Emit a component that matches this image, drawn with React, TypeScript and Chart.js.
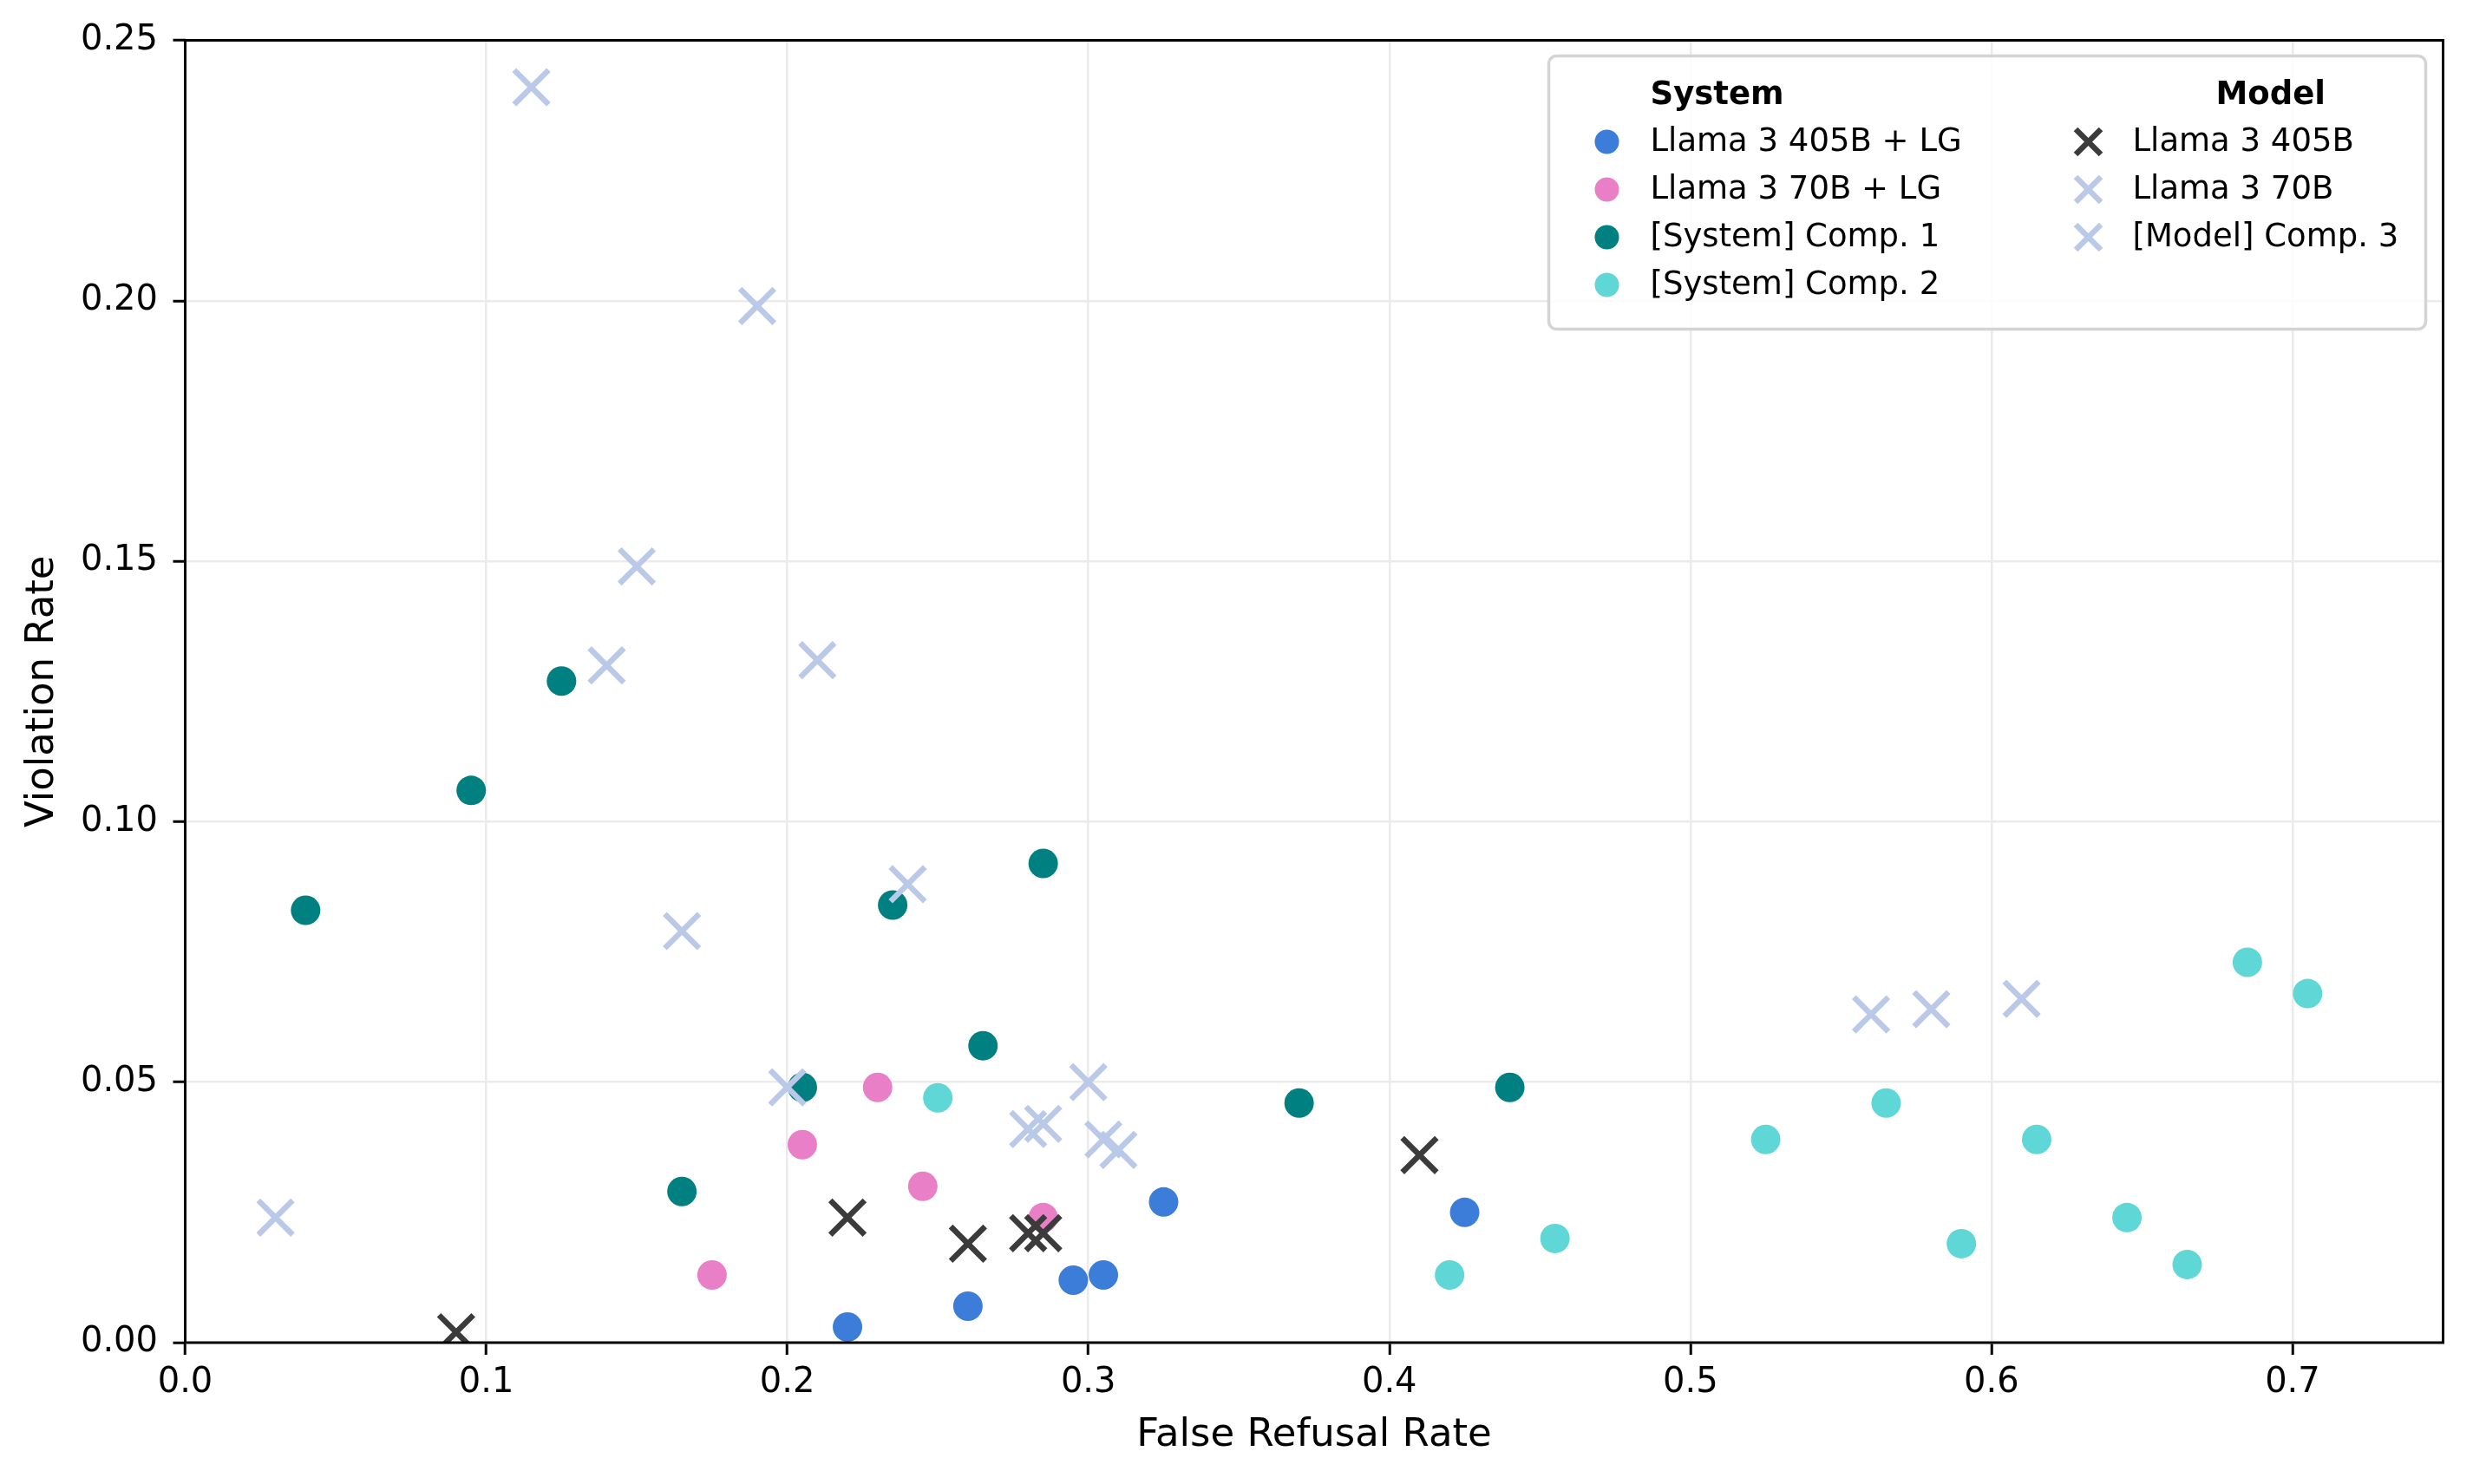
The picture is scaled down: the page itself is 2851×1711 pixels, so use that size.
import React, { useEffect, useRef } from 'react';
import { Chart, registerables } from 'chart.js';

Chart.register(...registerables);

// ---- Axis ticks ----
const xTickValues = [0, 0.1, 0.2, 0.3, 0.4, 0.5, 0.6, 0.7];
const xTickLabels = ['0.0', '0.1', '0.2', '0.3', '0.4', '0.5', '0.6', '0.7'];
const yTickValues = [0, 0.05, 0.1, 0.15, 0.2, 0.25];
const yTickLabels = ['0.00', '0.05', '0.10', '0.15', '0.20', '0.25'];

// ---- System series (circles) ----
const sys405LG_x = [0.22, 0.26, 0.295, 0.305, 0.325, 0.425];
const sys405LG_y = [0.003, 0.007, 0.012, 0.013, 0.027, 0.025];

const sys70LG_x = [0.175, 0.205, 0.23, 0.245, 0.285];
const sys70LG_y = [0.013, 0.038, 0.049, 0.030, 0.024];

const sysComp1_x = [0.04, 0.095, 0.125, 0.165, 0.205, 0.235, 0.265, 0.285, 0.37, 0.44];
const sysComp1_y = [0.083, 0.106, 0.127, 0.029, 0.049, 0.084, 0.057, 0.092, 0.046, 0.049];

const sysComp2_x = [0.25, 0.42, 0.455, 0.525, 0.565, 0.59, 0.615, 0.645, 0.665, 0.685, 0.705];
const sysComp2_y = [0.047, 0.013, 0.020, 0.039, 0.046, 0.019, 0.039, 0.024, 0.015, 0.073, 0.067];

// ---- Model series (crosses) ----
const mod405_x = [0.09, 0.22, 0.26, 0.28, 0.285, 0.41];
const mod405_y = [0.002, 0.024, 0.019, 0.021, 0.021, 0.036];

const mod70_x = [0.03, 0.14, 0.165, 0.2, 0.24, 0.28, 0.305, 0.56];
const mod70_y = [0.024, 0.130, 0.079, 0.049, 0.088, 0.041, 0.039, 0.063];

const modComp3_x = [0.115, 0.15, 0.19, 0.21, 0.285, 0.30, 0.31, 0.58, 0.61];
const modComp3_y = [0.241, 0.149, 0.199, 0.131, 0.042, 0.050, 0.037, 0.064, 0.066];

const systemNames = ['Llama 3 405B + LG', 'Llama 3 70B + LG', '[System] Comp. 1', '[System] Comp. 2'];
const modelNames = ['Llama 3 405B', 'Llama 3 70B', '[Model] Comp. 3'];
const systemColors = ['#3b7dd8', '#e97fc7', '#008080', '#5fd7d7'];
const modelColors = ['#3b3b3b', '#bac9e8', '#bac9e8'];

const FONT = 'DejaVu Sans';

function pts(xs: number[], ys: number[]) {
  return xs.map((x, i) => ({ x, y: ys[i] }));
}

const legendPlugin = {
  id: 'customLegend',
  afterDraw(chart: any) {
    const { ctx, chartArea } = chart;
    const right = chartArea.right - 20;
    const top = chartArea.top + 18;
    const w = 1011;
    const h = 315;
    const left = right - w;
    ctx.save();
    const r = 9;
    ctx.beginPath();
    ctx.moveTo(left + r, top);
    ctx.lineTo(right - r, top);
    ctx.arcTo(right, top, right, top + r, r);
    ctx.lineTo(right, top + h - r);
    ctx.arcTo(right, top + h, right - r, top + h, r);
    ctx.lineTo(left + r, top + h);
    ctx.arcTo(left, top + h, left, top + h - r, r);
    ctx.lineTo(left, top + r);
    ctx.arcTo(left, top, left + r, top, r);
    ctx.closePath();
    ctx.fillStyle = 'rgba(255,255,255,0.85)';
    ctx.fill();
    ctx.strokeStyle = '#d4d4d4';
    ctx.lineWidth = 3.5;
    ctx.stroke();

    ctx.textBaseline = 'middle';
    ctx.textAlign = 'left';
    ctx.fillStyle = '#000';
    const headerY = top + 45;
    const rows = [top + 99, top + 154, top + 209, top + 264];

    ctx.font = `bold 37px "${FONT}"`;
    ctx.fillText('System', left + 117, headerY + 1);
    ctx.fillText('Model', left + 769, headerY + 1);

    ctx.font = `37px "${FONT}"`;
    systemNames.forEach((name, i) => {
      ctx.beginPath();
      ctx.arc(left + 67, rows[i], 14, 0, Math.PI * 2);
      ctx.fillStyle = systemColors[i];
      ctx.fill();
      ctx.fillStyle = '#000';
      ctx.fillText(name, left + 117, rows[i] + 1);
    });
    modelNames.forEach((name, i) => {
      const cx = left + 622;
      const cy = rows[i];
      const s = 14.5;
      ctx.beginPath();
      ctx.moveTo(cx - s, cy - s);
      ctx.lineTo(cx + s, cy + s);
      ctx.moveTo(cx - s, cy + s);
      ctx.lineTo(cx + s, cy - s);
      ctx.strokeStyle = modelColors[i];
      ctx.lineWidth = 6.5;
      ctx.lineCap = 'butt';
      ctx.stroke();
      ctx.fillStyle = '#000';
      ctx.fillText(name, left + 673, cy + 1);
    });
    ctx.restore();
  },
};

const framePlugin = {
  id: 'frame',
  afterDatasetsDraw(chart: any) {
    const { ctx, chartArea: a } = chart;
    ctx.save();
    ctx.strokeStyle = '#000';
    ctx.lineWidth = 3;
    ctx.strokeRect(a.left, a.top, a.right - a.left, a.bottom - a.top);
    ctx.restore();
  },
};

export default function App() {
  const ref = useRef<HTMLCanvasElement | null>(null);

  useEffect(() => {
    if (!ref.current) return;
    Chart.defaults.font.family = FONT;
    Chart.defaults.color = '#000';

    const circle = (label: string, xs: number[], ys: number[], color: string, order: number) => ({
      label,
      data: pts(xs, ys),
      pointStyle: 'circle',
      pointRadius: 17,
      pointBackgroundColor: color,
      pointBorderColor: color,
      pointBorderWidth: 0,
      showLine: false,
      clip: 0,
      order,
    });
    const cross = (label: string, xs: number[], ys: number[], color: string, order: number) => ({
      label,
      data: pts(xs, ys),
      pointStyle: 'crossRot',
      pointRadius: 28,
      pointBackgroundColor: color,
      pointBorderColor: color,
      pointBorderWidth: 6.5,
      showLine: false,
      clip: 0,
      order,
    });

    const chart = new Chart(ref.current, {
      type: 'scatter',
      data: {
        datasets: [
          circle(systemNames[0], sys405LG_x, sys405LG_y, systemColors[0], 6),
          circle(systemNames[1], sys70LG_x, sys70LG_y, systemColors[1], 5),
          circle(systemNames[2], sysComp1_x, sysComp1_y, systemColors[2], 4),
          circle(systemNames[3], sysComp2_x, sysComp2_y, systemColors[3], 3),
          cross(modelNames[0], mod405_x, mod405_y, modelColors[0], 2),
          cross(modelNames[1], mod70_x, mod70_y, modelColors[1], 1),
          cross(modelNames[2], modComp3_x, modComp3_y, modelColors[2], 0),
        ] as any,
      },
      options: {
        responsive: false,
        animation: false,
        devicePixelRatio: 1,
        events: [],
        layout: { padding: { left: 0, top: 46.5, right: 29, bottom: 0 } },
        plugins: {
          legend: { display: false },
          tooltip: { enabled: false },
        },
        scales: {
          x: {
            type: 'linear',
            min: 0,
            max: 0.75,
            afterBuildTicks: (s: any) => {
              s.ticks = xTickValues.map((v) => ({ value: v }));
            },
            afterFit: (s: any) => {
              s.height = 163;
              s.paddingLeft = 0;
              s.paddingRight = 0;
            },
            ticks: {
              callback: (_v: any, i: number) => xTickLabels[i],
              font: { size: 40 },
              color: '#000',
              padding: 8.5,
              maxRotation: 0,
              autoSkip: false,
            },
            grid: {
              color: '#ebebeb',
              lineWidth: 2.5,
              tickColor: '#000',
              tickLength: 14,
              tickWidth: 3,
            },
            border: { display: false },
            title: {
              display: true,
              text: 'False Refusal Rate',
              font: { size: 45 },
              color: '#000',
              padding: { top: 0, bottom: 29 },
            },
          },
          y: {
            type: 'linear',
            min: 0,
            max: 0.25,
            afterBuildTicks: (s: any) => {
              s.ticks = yTickValues.map((v) => ({ value: v }));
            },
            afterFit: (s: any) => {
              s.width = 213.5;
              s.paddingTop = 0;
              s.paddingBottom = 0;
            },
            ticks: {
              callback: (_v: any, i: number) => yTickLabels[i],
              font: { size: 40 },
              color: '#000',
              padding: 17.5,
              autoSkip: false,
            },
            grid: {
              color: '#ebebeb',
              lineWidth: 2.5,
              tickColor: '#000',
              tickLength: 14,
              tickWidth: 3,
            },
            border: { display: false },
            title: {
              display: true,
              text: 'Violation Rate',
              font: { size: 45 },
              color: '#000',
              padding: { top: 22.5, bottom: 0 },
            },
          },
        },
      } as any,
      plugins: [framePlugin, legendPlugin],
    });
    return () => chart.destroy();
  }, []);

  return (
    <div style={{ position: 'fixed', left: 0, top: 0, width: 2851, height: 1711, background: '#fff' }}>
      <canvas ref={ref} width={2851} height={1711} style={{ display: 'block', width: 2851, height: 1711 }} />
    </div>
  );
}
